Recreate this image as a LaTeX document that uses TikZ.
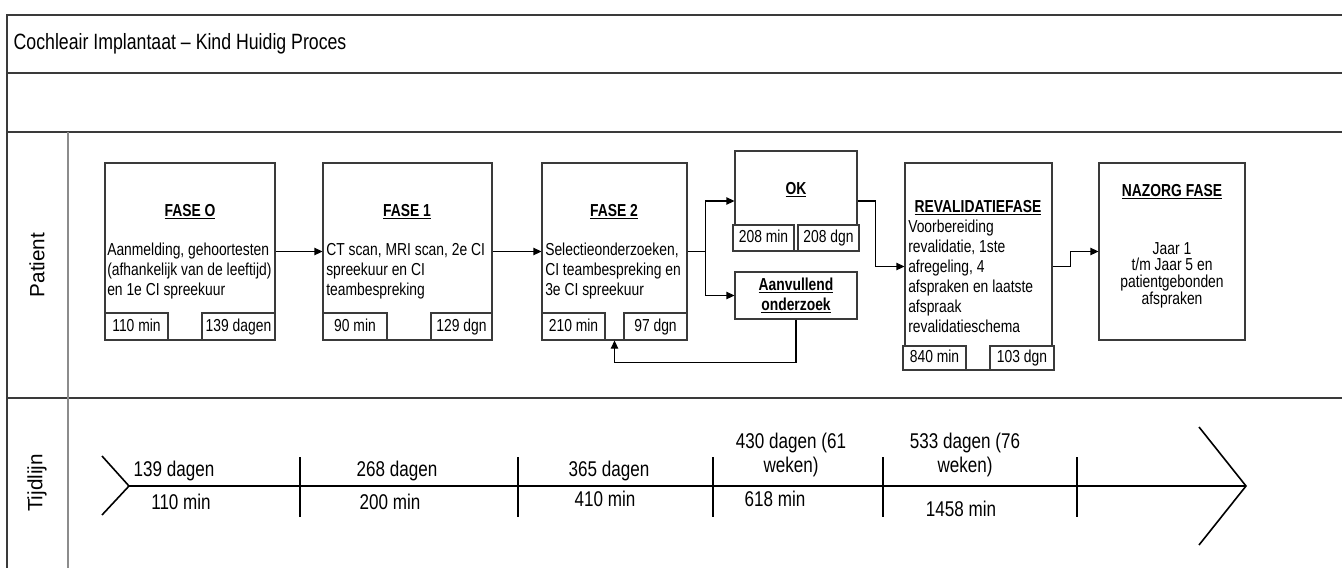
\documentclass[tikz,border=0pt]{standalone}
\usepackage{fontspec}
\setmainfont{Liberation Sans}[FakeStretch=0.8]
\newfontfamily\lanefont{Liberation Sans}
\usetikzlibrary{arrows.meta,positioning,calc,fit}
\definecolor{ink}{HTML}{000000}
\definecolor{frame}{HTML}{3A3A3A}
\definecolor{divider}{HTML}{8C8C8C}

\begin{document}
\begin{tikzpicture}[x=0.75pt,y=-0.75pt,
  font=\fontsize{13}{15}\selectfont,
  phase/.style={draw=frame,line width=0.8pt,inner sep=0pt},
  cell/.style={draw=frame,fill=white,line width=0.8pt,inner sep=0pt},
  every label/.style={text height=9.4pt,text depth=2.6pt,inner sep=0pt},
  head/.style={font=\fontsize{13}{15}\selectfont\bfseries},
  body/.style={align=left,anchor=west,inner sep=0pt},
  flow/.style={draw=ink,line width=0.8pt,-{Triangle[length=6pt,width=5.5pt]}},
  tick/.style={line width=1.2pt},
  stamp/.style={font=\fontsize{16}{18.5}\selectfont,align=center,inner sep=0pt}
]
\useasboundingbox (0,0) rectangle (1342,568);
% frame and lanes
\draw[frame,line width=1.1pt] (1342,15) -- (7,15) -- (7,568);
\draw[frame,line width=1.1pt] (7,73) -- (1342,73);
\draw[frame,line width=1.1pt] (7,132) -- (1342,132);
\draw[frame,line width=1.1pt] (7,398) -- (1342,398);
\draw[divider,line width=1.1pt] (68,132) -- (68,568);
\node[anchor=west,font=\fontsize{16.6}{18}\selectfont] (title) at (9,44) {Cochleair Implantaat -- Kind Huidig Proces};
\node[rotate=90,font=\lanefont\fontsize{15.5}{17}\selectfont] (lanepat) at (37,265) {Patient};
\node[rotate=90,font=\lanefont\fontsize{15.5}{17}\selectfont] (lanetijd) at (37,483) {Tijdlijn};

% fase 0
\node[phase,fit={(105,163) (275,340)}] (fase0) {};
\node[head] (t0) at (190,212) {\underline{FASE O}};
\node[body] (b0) at (107,271) {Aanmelding, gehoortesten\\(afhankelijk van de leeftijd)\\en 1e CI spreekuur};
\node[cell,fit={(105,313) (168,340)},label=center:{110 min}] (fase0min) {};
\node[cell,fit={(202,313) (275,340)},label=center:{139 dagen}] (fase0dag) {};
% fase 1
\node[phase,fit={(323,163) (492,340)}] (fase1) {};
\node[head] (t1) at (407,212) {\underline{FASE 1}};
\node[body] (b1) at (326,271) {CT scan, MRI scan, 2e CI\\spreekuur en CI\\teambespreking};
\node[cell,fit={(323,313) (387,340)},label=center:{90 min}] (fase1min) {};
\node[cell,fit={(431,313) (492,340)},label=center:{129 dgn}] (fase1dag) {};
% fase 2
\node[phase,fit={(542,163) (687,340)}] (fase2) {};
\node[head] (t2) at (614,212) {\underline{FASE 2}};
\node[body] (b2) at (545,271) {Selectieonderzoeken,\\CI teambespreking en\\3e CI spreekuur};
\node[cell,fit={(542,313) (605,340)},label=center:{210 min}] (fase2min) {};
\node[cell,fit={(624,313) (687,340)},label=center:{97 dgn}] (fase2dag) {};
% ok
\node[phase,fit={(735,151) (857,251)}] (ok) {};
\node[head] (tok) at (796,190) {\underline{OK}};
\node[cell,fit={(733,225) (794,251)},label=center:{208 min}] (okmin) {};
\node[cell,fit={(798,225) (859,251)},label=center:{208 dgn}] (okdag) {};
% aanvullend onderzoek
\node[phase,fit={(735,272) (857,319)}] (aanv) {};
\node[head,align=center,font=\fontsize{13}{14.5}\selectfont\bfseries] (taanv) at (aanv) {\underline{Aanvullend}\\\underline{onderzoek}};
% revalidatie
\node[phase,fit={(905,163) (1052,370)}] (reval) {};
\node[head] (trev) at (978,208) {\underline{REVALIDATIEFASE}};
\node[body] (brev) at (908,276) {Voorbereiding\\revalidatie, 1ste\\afregeling, 4\\afspraken en laatste\\afspraak\\revalidatieschema};
\node[cell,fit={(903,346) (966,370)},label=center:{840 min}] (revmin) {};
\node[cell,fit={(990,346) (1054,370)},label=center:{103 dgn}] (revdag) {};
% nazorg
\node[phase,fit={(1099,163) (1245,340)}] (nazorg) {};
\node[head] (tnaz) at (1172,192) {\underline{NAZORG FASE}};
\node[align=center,inner sep=0pt,font=\fontsize{13}{12.5}\selectfont] (bnaz) at (1172,275) {Jaar 1\\t/m Jaar 5 en\\patientgebonden\\afspraken};

% connectors
\draw[flow] (fase0.east) -- (fase1.west);
\draw[flow] (fase1.east) -- (fase2.west);
\coordinate (split) at ($(fase2.east)+(18,0)$);
\draw[flow] (fase2.east) -- (split) |- (ok.west);
\draw[flow] (split) |- (aanv.west);
\draw[flow] (aanv.south) -- ++(0,43) -| (fase2.south);
\draw[flow] (ok.east) -- ++(18,0) |- (reval.west);
\draw[flow] (reval.east) -- ++(18,0) |- (nazorg.west);

% tijdlijn
\coordinate (tlstart) at (129,486);
\coordinate (tlend) at (1246,486);
\draw[line width=2pt] (tlstart) -- (tlend);
\draw[line width=1.2pt] (102,456) -- (tlstart) -- (102,515);
\draw[line width=1.2pt] (1199,427) -- (tlend) -- (1199,545);
\foreach \x in {300,518,713,883,1077}{
  \draw[tick] (\x,457) -- (\x,517);
}
\node[stamp] (d0) at (174,471) {139 dagen};
\node[stamp] (m0) at (181,502) {110 min};
\node[stamp] (d1) at (397,471) {268 dagen};
\node[stamp] (m1) at (390,502) {200 min};
\node[stamp] (d2) at (609,471) {365 dagen};
\node[stamp] (m2) at (605,499) {410 min};
\node[stamp] (d3) at (791,455) {430 dagen (61\\weken)};
\node[stamp] (m3) at (775,499) {618 min};
\node[stamp] (d4) at (965,455) {533 dagen (76\\weken)};
\node[stamp] (m4) at (961,509) {1458 min};
\end{tikzpicture}
\end{document}
